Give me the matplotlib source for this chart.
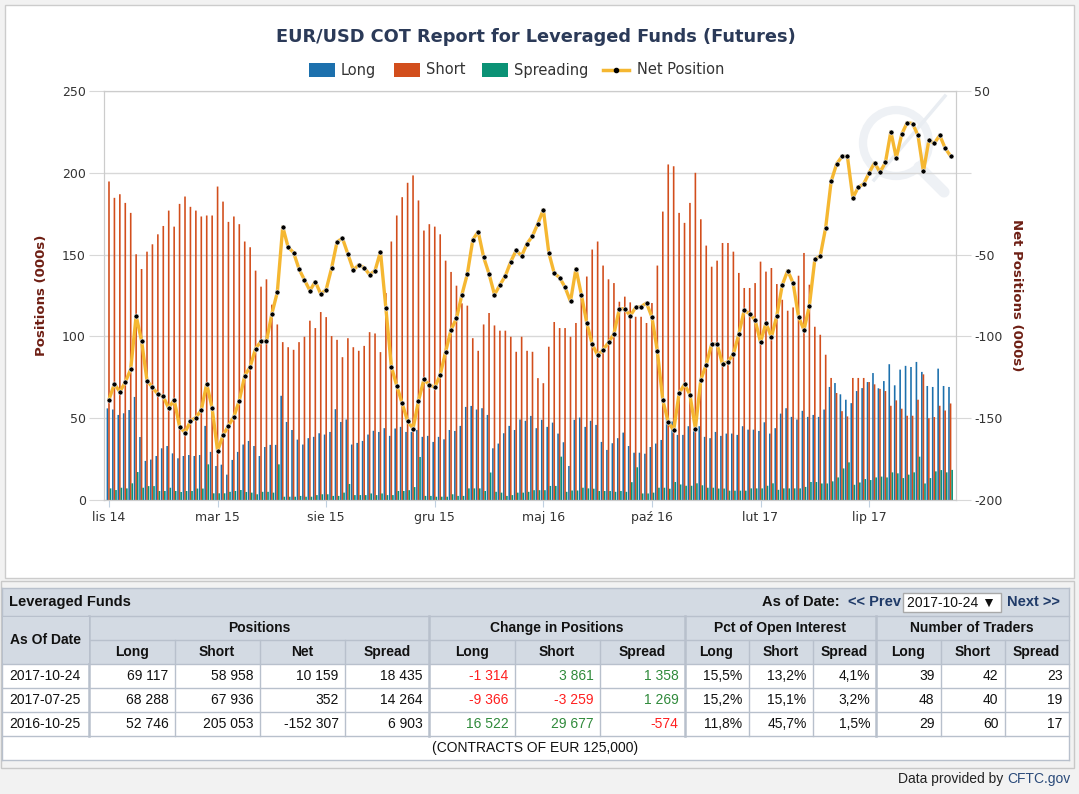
import numpy as np
import pandas as pd
import matplotlib
matplotlib.use("Agg")
import matplotlib.pyplot as plt
from matplotlib.patches import Rectangle, Circle
from matplotlib.lines import Line2D

# Tygodniowe pozycje Leveraged Funds na EUR/USD (tys. kontraktow)
dates = pd.date_range("2014-11-04", "2017-10-24", freq="7D")

long_pos = [
    56, 55.3, 52, 53, 55, 63, 38.5, 23.9, 24.7, 26.9,
    31.6, 33, 28.5, 25.5, 26.9, 27.5, 26.9, 27.5, 45.3, 29.4,
    20.8, 21.6, 15.5, 24.5, 29.4, 33.9, 36.1, 33, 26.9, 32.4,
    33.7, 33.7, 63.7, 47.7, 42.8, 36.9, 33.9, 37.8, 38.6, 40.8,
    40, 41.6, 55.5, 47.7, 49.2, 33.9, 34.9, 36.1, 40, 42.3,
    41.6, 43.9, 39.2, 43.7, 44.7, 41.6, 41.6, 42.8, 38.6, 39.2,
    35.5, 38.6, 37.1, 42.8, 42.2, 45.3, 56.9, 57.5, 55.3, 56.1,
    52, 31.6, 34.5, 40.8, 45.3, 42.8, 49.2, 48.4, 51.4, 43.9,
    49, 44.7, 47.3, 40.6, 35.3, 20.8, 49, 50.4, 44.7, 48.4,
    45.9, 35.5, 30.6, 34.7, 37.8, 41.2, 33, 28.9, 28.9, 28.3,
    32.4, 34.5, 36.7, 52.7, 48, 39.8, 39.8, 45.1, 43, 45.1,
    38.6, 37.8, 41.6, 39.2, 40.6, 40.6, 39.8, 45.1, 43, 43,
    42.2, 47.5, 40.6, 43.9, 52.8, 56.1, 50.8, 49.2, 54.5, 50.8,
    52, 50.8, 55.3, 69.1, 71.5, 64.6, 61.3, 59.2, 66.6, 68.4,
    72.1, 77.6, 68.3, 72.7, 83, 70.1, 79.7, 82, 81.3, 84.4,
    78.3, 69.7, 69.1, 80.3, 69.7, 69.1,
]
short_pos = [
    194.7, 184.7, 186.9, 181.6, 175.5, 150.2, 141.2, 151.8, 156.3, 162.4,
    167.5, 176.9, 167.1, 181, 185.5, 179.2, 176.9, 173.3, 173.9, 173.9,
    191.6, 182.4, 170, 173.3, 168.6, 158, 154.5, 140.2, 130.4, 134.9,
    119.4, 107.3, 96.5, 93.4, 91.8, 96.5, 99.8, 109.6, 105.1, 114.9,
    111.8, 100.2, 97.9, 87.3, 98.9, 93.4, 91.2, 94.2, 102.6, 101.8,
    90.4, 126.5, 158, 173.9, 185.1, 193.9, 198.4, 183.1, 164.7, 168.6,
    167.1, 162.4, 146.3, 139.4, 131, 120.2, 118.8, 98.9, 91.2, 107.3,
    114.3, 106.7, 103.5, 103.5, 99.8, 90.6, 99.8, 91.2, 90.6, 74.5,
    71.4, 93.7, 108.8, 105.1, 105.1, 99.8, 108.2, 124.9, 136.6, 153.1,
    158, 143.3, 134.9, 132.6, 121.2, 124.3, 120.8, 112, 112, 108.2,
    120.4, 143.3, 176.3, 205.1, 204, 175.5, 169.4, 181.6, 200, 171.6,
    155.5, 142.6, 146.3, 157.1, 157.1, 151.8, 138.8, 129.6, 129.6, 132.6,
    145.7, 139.6, 141.8, 132, 122.4, 115.7, 117.7, 137.1, 151, 131.6,
    105.9, 101, 88.8, 74.6, 65.4, 54.3, 51.1, 74.6, 74.6, 74.6,
    72.1, 70.7, 67.9, 66.6, 57.6, 60.9, 55.8, 51.5, 51.5, 61.3,
    76.8, 50, 50.7, 57.6, 54.7, 59.0,
]
spread_pos = [
    7.1, 6.1, 7.5, 7.1, 10.2, 17.1, 7.5, 8.5, 8.5, 5.5,
    5.5, 7.5, 5.5, 4.9, 5.5, 5.5, 7, 7, 21.8, 4.1,
    4.1, 4.1, 5, 5.5, 6.1, 4.9, 4.5, 3.5, 5, 5,
    4.5, 21.8, 2, 2, 2, 2.5, 2, 2, 3, 3.5,
    3.5, 2.5, 2.5, 4.5, 9.8, 3, 3, 3, 4, 3,
    4, 3, 3, 5.5, 5.5, 6, 7.9, 26.3, 2.5, 2.5,
    2, 2, 2, 3.5, 2.5, 2.5, 7.1, 7.1, 7.1, 5.5,
    16.8, 5, 4.5, 2.5, 3, 4.5, 4.5, 5, 6, 6,
    6, 8.6, 8.6, 26.5, 5, 5.8, 5.8, 7.5, 7.1, 6.9,
    5.5, 5.5, 5.5, 5, 5.5, 5, 10.9, 20, 4, 4,
    4.5, 7.5, 7.5, 6.9, 11, 9.5, 8.7, 8.7, 10.2, 9,
    7.5, 7.5, 7, 7, 5.7, 5.7, 5.7, 5.7, 7.1, 7.1,
    7.1, 8.7, 10.2, 6.2, 7.1, 7.1, 7.1, 7.1, 8, 11,
    11, 10.1, 10.1, 11.4, 13.8, 19.3, 23, 9.3, 10.7, 12.8,
    12.2, 13.8, 14.3, 13.8, 16.9, 16.3, 13.4, 15.5, 16.9, 26.5,
    10.1, 13.4, 17.5, 18.3, 16.9, 18.4,
]
net_pos = [
    -138.6, -129, -133.9, -128, -120, -87.4, -102.7, -127, -131.2, -135.3,
    -136.7, -144, -138.6, -155.3, -158.8, -151.8, -149.6, -145, -129, -144,
    -170, -160.4, -154.7, -149, -139.2, -124, -118.6, -107.4, -103, -103,
    -86.1, -73, -33, -45.5, -48.8, -58.8, -65.5, -72, -66.5, -74.1,
    -71.4, -58.2, -42.2, -40, -49.8, -59.4, -56.3, -58, -62.3, -59.8,
    -48.2, -82.9, -118.4, -130.2, -141, -151.8, -156.3, -139.4, -126.3, -129.6,
    -131.2, -123.5, -109.4, -95.9, -89, -74.5, -61.8, -41, -35.9, -51.6,
    -61.8, -74.5, -68.6, -63, -54.3, -47.4, -50.8, -43.3, -38.6, -31,
    -22.5, -48.8, -61.4, -64.1, -70, -78.6, -58.6, -74.5, -91.8, -104.7,
    -111.6, -108.2, -103.7, -98.4, -83.1, -83.1, -87.4, -82.3, -81.8, -79.6,
    -88.2, -109.2, -139, -152.3, -157.4, -134.9, -129.2, -135.7, -156.3, -126.5,
    -117.2, -104.7, -104.7, -117, -115.5, -110.8, -98.6, -83.9, -86.3, -90,
    -103.5, -91.8, -100.4, -87.4, -68.6, -59.8, -67.4, -88, -96.1, -81.2,
    -52.9, -50.8, -33.5, -5.3, 5.3, 10, 10, -15.3, -8.8, -6.8,
    0, 6.1, 0.35, 6.3, 25.2, 9.2, 23.5, 30.7, 30.1, 22.9,
    0.8, 19.8, 18, 22.9, 15.1, 10.2,
]
tick_labels = ["lis 14", "mar 15", "sie 15", "gru 15", "maj 16", "paź 16", "lut 17", "lip 17"]

# tabela pod wykresem
table_dates = ["2017-10-24", "2017-07-25", "2016-10-25"]
tab_long = [69117, 68288, 52746]
tab_short = [58958, 67936, 205053]
tab_net = [10159, 352, -152307]
tab_spread = [18435, 14264, 6903]
chg_long = [-1314, -9366, 16522]
chg_short = [3861, -3259, 29677]
chg_spread = [1358, 1269, -574]
pct_long = [15.5, 15.2, 11.8]
pct_short = [13.2, 15.1, 45.7]
pct_spread = [4.1, 3.2, 1.5]
tr_long = [39, 48, 29]
tr_short = [42, 40, 60]
tr_spread = [23, 19, 17]

c_long = "#1c70ad"
c_short = "#d24e1c"
c_spread = "#0b9275"
c_net = "#f5b731"
c_grid = "#d8d8d8"
c_title_axis = "#6e1f14"

W, H = 1079, 794
fig = plt.figure(figsize=(W / 100, H / 100), dpi=100, facecolor="#f2f2f2")

# tlo w pikselach
bg = fig.add_axes([0, 0, 1, 1], zorder=0)
bg.set_xlim(0, W)
bg.set_ylim(H, 0)
bg.axis("off")
bg.add_patch(Rectangle((4.5, 4.5), 1069, 573, fc="white", ec="#cccccc", lw=1))

# znak wodny (bardzo blady)
wm = "#eef1f5"
bg.add_patch(Circle((896, 143), 33, fill=False, ec=wm, lw=6))
bg.add_line(Line2D([919, 944], [167, 192], color=wm, lw=8, solid_capstyle="round"))
bg.add_line(Line2D([874, 945], [180, 96], color="#e9edf2", lw=2.5))

# tytul i legenda
bg.text(536, 37, "EUR/USD COT Report for Leveraged Funds (Futures)", ha="center", va="center",
        fontsize=12.8, fontweight="bold", color="#2b3a58", family="DejaVu Sans")
legend_items = [("Long", c_long, 309), ("Short", c_short, 394), ("Spreading", c_spread, 482)]
for name, col, x0 in legend_items:
    bg.add_patch(Rectangle((x0, 63), 26, 14, fc=col, ec="none"))
    bg.text(x0 + 32, 70, name, va="center", fontsize=10.5, color="#333333")
bg.add_line(Line2D([603, 629], [70, 70], color=c_net, lw=2.5))
bg.add_line(Line2D([616], [70], color="black", marker="o", ms=3))
bg.text(637, 70, "Net Position", va="center", fontsize=10.5, color="#333333")

# wykres glowny
x = np.arange(len(dates))
ax = fig.add_axes([104 / W, 1 - 500 / H, 852 / W, 409 / H], zorder=1)
ax.patch.set_visible(False)
for off, vals, col in [(-0.29, long_pos, c_long), (0, short_pos, c_short), (0.29, spread_pos, c_spread)]:
    bars = ax.bar(x + off, vals, width=0.3, color=col, linewidth=0)
    for b in bars:
        b.set_snap(False)
ax.set_xlim(-0.92, 156)
ax.set_ylim(0, 250)
ax.set_yticks(np.arange(0, 251, 50))
ax.grid(axis="y", color=c_grid, lw=1)
ax.set_axisbelow(True)
ax.set_xticks(x[::20])
ax.set_xticklabels(tick_labels)
ax.tick_params(axis="x", length=5, color="#c0d0e0", labelsize=9, labelcolor="#333333", pad=3)
ax.tick_params(axis="y", length=11, color=c_grid, labelsize=9, labelcolor="#333333", pad=2)
for s in ax.spines.values():
    s.set_color("#cccccc")
ax.spines["bottom"].set_color("#c0d0e0")
ax.set_ylabel("Positions (000s)", color=c_title_axis, fontsize=9.5, fontweight="bold", labelpad=10)

ax2 = ax.twinx()
ax2.set_zorder(2)
ax2.plot(x, net_pos, color=c_net, lw=2.4, marker="o", ms=3.6, mfc="black", mec="white", mew=0.4)
ax2.set_ylim(-200, 50)
ax2.set_yticks(np.arange(-200, 51, 50))
ax2.set_yticklabels(["-200", "-150", "-100", "-50", "", "50"])
ax2.tick_params(axis="y", length=11, color=c_grid, labelsize=9, labelcolor="#333333", pad=2)
for s in ax2.spines.values():
    s.set_color("#cccccc")
ax2.set_ylabel("Net Positions (000s)", color=c_title_axis, fontsize=9.5, fontweight="bold",
               rotation=270, labelpad=15)

# tabela
tf = ["Liberation Sans", "DejaVu Sans"]
hdr_bg = "#d3dae3"
line_c = "#b8c0cc"
rows = [588, 616, 640, 664, 688, 712, 736, 760]
cols = [2, 89, 174.5, 259.5, 344.5, 429, 514.5, 599.5, 684.5, 748.5, 812.5, 876, 940.5, 1004.5, 1068.5]
groups = [89, 429, 684.5, 876]

bg.add_patch(Rectangle((0.5, 581), 1073, 187, fc="#f2f2f2", ec="#c8c8c8", lw=1))
bg.add_patch(Rectangle((cols[0], rows[0]), cols[-1] - cols[0], rows[3] - rows[0], fc=hdr_bg, ec="none"))
bg.add_patch(Rectangle((cols[0], rows[3]), cols[-1] - cols[0], rows[-1] - rows[3], fc="white", ec="none"))
for yy in rows:
    bg.add_line(Line2D([cols[0], cols[-1]], [yy, yy], color=line_c, lw=1))
# przykrycie linii pod "As Of Date"
bg.add_patch(Rectangle((cols[0] + 0.5, rows[1] + 1), cols[1] - cols[0] - 1, rows[3] - rows[1] - 2,
                       fc=hdr_bg, ec="none", zorder=3))
for xx in [cols[0], cols[-1]]:
    bg.add_line(Line2D([xx, xx], [rows[0], rows[-1]], color=line_c, lw=1))
for xx in cols[1:-1]:
    lw = 1.8 if xx in groups else 1
    y0 = rows[1] if xx in groups else rows[2]
    bg.add_line(Line2D([xx, xx], [y0, rows[-2]], color=line_c, lw=lw))

def fmt(v):
    return f"{v:,}".replace(",", " ")

def mid(i):
    return (rows[i] + rows[i + 1]) / 2

bg.text(9, mid(0), "Leveraged Funds", va="center", fontsize=10.5, fontweight="bold", family=tf, color="#111111")
bg.text(840, mid(0), "As of Date:", va="center", ha="right", fontsize=10.5, fontweight="bold", family=tf, color="#111111")
bg.text(848, mid(0), "<< Prev", va="center", fontsize=10.5, fontweight="bold", family=tf, color="#1f3a68")
bg.add_patch(Rectangle((903, 593), 98, 19, fc="white", ec="#a9a9a9", lw=1))
bg.text(907, mid(0) + 0.5, "2017-10-24 \u25bc", va="center", fontsize=10, family=tf, color="#111111")
bg.text(1007, mid(0), "Next >>", va="center", fontsize=10.5, fontweight="bold", family=tf, color="#1f3a68")

bg.text((cols[0] + cols[1]) / 2, rows[2], "As Of Date", ha="center", va="center", fontsize=10,
        fontweight="bold", family=tf, color="#111111", zorder=4)
group_names = ["Positions", "Change in Positions", "Pct of Open Interest", "Number of Traders"]
group_edges = groups + [cols[-1]]
for gname, a, b in zip(group_names, group_edges[:-1], group_edges[1:]):
    bg.text((a + b) / 2, mid(1), gname, ha="center", va="center", fontsize=10, fontweight="bold",
            family=tf, color="#111111")
sub_names = ["Long", "Short", "Net", "Spread", "Long", "Short", "Spread",
             "Long", "Short", "Spread", "Long", "Short", "Spread"]
for k, name in enumerate(sub_names):
    a, b = cols[k + 1], cols[k + 2]
    bg.text((a + b) / 2, mid(2), name, ha="center", va="center", fontsize=10, fontweight="bold",
            family=tf, color="#111111")

for r in range(3):
    yy = mid(3 + r)
    cells = [
        (fmt(tab_long[r]), "#111111"), (fmt(tab_short[r]), "#111111"),
        (fmt(tab_net[r]), "#111111"), (fmt(tab_spread[r]), "#111111"),
    ]
    for v in [chg_long[r], chg_short[r], chg_spread[r]]:
        cells.append((fmt(v), "#ff1f1f" if v < 0 else "#2f8a3a"))
    for v in [pct_long[r], pct_short[r], pct_spread[r]]:
        cells.append((f"{v:.1f}%".replace(".", ","), "#111111"))
    for v in [tr_long[r], tr_short[r], tr_spread[r]]:
        cells.append((str(v), "#111111"))
    bg.text(9, yy, table_dates[r], va="center", fontsize=10, family=tf, color="#111111")
    for k, (txt, col) in enumerate(cells):
        bg.text(cols[k + 2] - 6, yy, txt, ha="right", va="center", fontsize=10, family=tf, color=col)

bg.text((cols[0] + cols[-1]) / 2, mid(6), "(CONTRACTS OF EUR 125,000)", ha="center", va="center",
        fontsize=10, family=tf, color="#111111")

bg.text(1070, 779, "CFTC.gov", ha="right", va="center", fontsize=10, family=tf, color="#2a4a7a")
bg.text(1070 - 67, 779, "Data provided by", ha="right", va="center", fontsize=10, family=tf, color="#222222")

fig.savefig("out.png", dpi=100, facecolor=fig.get_facecolor())
